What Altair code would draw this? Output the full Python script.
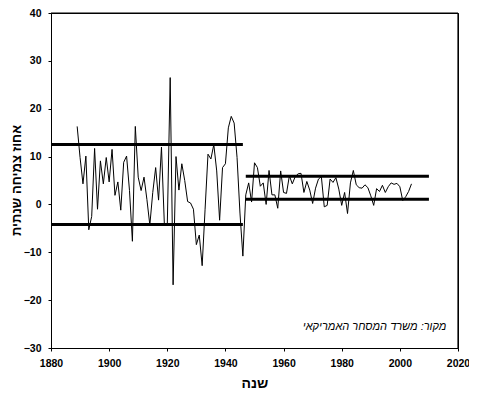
import altair as alt
import pandas as pd

# ---- data ----
years = list(range(1889, 2005))
growth = [
    16.3, 9.8, 4.3, 10.1, -5.3, -2.5, 11.7, -1.0, 9.1, 4.3,      # 1889-1898
    9.8, 4.7, 11.5, 1.9, 4.7, -1.2, 8.8, 10.1, 2.9, -7.7,        # 1899-1908
    16.3, 5.7, 2.9, 5.7, 1.0, -4.3, 2.5, 7.7, 0.9, 12.0,         # 1909-1918
    -4.3, -4.3, 26.5, -16.8, 10.0, 3.0, 8.5, 5.0, 0.6, 0.3,      # 1919-1928
    -1.0, -8.4, -6.4, -12.8, -1.0, 10.5, 9.5, 12.5, 7.0, -3.3,   # 1929-1938
    7.7, 8.5, 16.0, 18.4, 17.0, 9.8, -1.8, -10.8, 2.0, 4.5,      # 1939-1948
    0.5, 8.7, 7.7, 3.8, 4.5, 0.0, 7.1, 2.0, 2.0, -0.8,           # 1949-1958
    7.0, 2.5, 2.3, 6.0, 4.3, 5.8, 6.4, 6.5, 2.5, 4.8,            # 1959-1968
    3.0, 0.2, 3.4, 5.3, 5.8, -0.5, -0.2, 5.3, 4.6, 5.6,          # 1969-1978
    3.2, -0.2, 2.5, -1.9, 4.5, 7.1, 4.1, 3.5, 3.4, 4.1,          # 1979-1988
    3.5, 1.8, -0.2, 3.3, 2.7, 4.0, 2.5, 3.7, 4.5, 4.2,           # 1989-1998
    4.4, 3.7, 0.8, 1.6, 2.7, 4.3,                                # 1999-2004
]

# band lines (two periods, upper and lower bound)
band_start = [1880, 1880, 1947, 1947]
band_end = [1946, 1946, 2010, 2010]
band_value = [12.5, -4.2, 5.9, 1.1]

x_domain = [1880, 2020]
y_domain = [-30, 40]
x_ticks = list(range(1880, 2021, 10))
y_ticks = list(range(-30, 41, 5))

# plot-box edges (domain ends) for the closing frame
edge_h_x0 = [1880]
edge_h_x1 = [2020]
edge_h_y = [40]
edge_v_x = [2020]
edge_v_y0 = [-30]
edge_v_y1 = [40]

note_text = ["מקור: משרד המסחר האמריקאי"]
note_x = [2016]
note_y = [-25.7]

y_title = "אחוז צמיחה שנתית"
x_title = "שנה"

FONT = "Liberation Sans"

series = pd.DataFrame({"year": years, "growth": growth})
bands = pd.DataFrame({"start": band_start, "end": band_end, "value": band_value})
note = pd.DataFrame({"text": note_text, "x": note_x, "y": note_y})
edge_h = pd.DataFrame({"x0": edge_h_x0, "x1": edge_h_x1, "y": edge_h_y})
edge_v = pd.DataFrame({"x": edge_v_x, "y0": edge_v_y0, "y1": edge_v_y1})

xscale = alt.Scale(domain=x_domain, nice=False, zero=False)
yscale = alt.Scale(domain=y_domain, nice=False, zero=False)

xaxis = alt.Axis(
    values=x_ticks, format="d",
    labelExpr="datum.value % 20 == 0 ? datum.label : ''",
    title=x_title, titleFont=FONT, titleFontSize=14, titleFontWeight="bold",
    titleColor="black", titleBaseline="middle", titleY=35,
    labelFont=FONT, labelFontSize=10.5, labelFontWeight="bold", labelColor="black",
    labelPadding=7, tickSize=3, tickColor="black", domainColor="black",
    grid=False, labelFlush=False, labelOverlap=False,
)
yaxis = alt.Axis(
    values=y_ticks,
    labelExpr="datum.value % 10 == 0 ? datum.label : ''",
    title=y_title, titleFont=FONT, titleFontSize=13, titleFontWeight="bold",
    titleColor="black", titleBaseline="middle", titleX=-35, titleY=167,
    titleAngle=270,
    labelFont=FONT, labelFontSize=10.5, labelFontWeight="bold", labelColor="black",
    labelPadding=7, tickSize=3, tickColor="black", domainColor="black",
    grid=False, labelFlush=False, labelOverlap=False,
)

line = alt.Chart(series).mark_line(color="black", strokeWidth=1).encode(
    x=alt.X("year:Q", scale=xscale, axis=xaxis),
    y=alt.Y("growth:Q", scale=yscale, axis=yaxis),
)

top_edge = alt.Chart(edge_h).mark_rule(color="black", strokeWidth=1.2).encode(
    x=alt.X("x0:Q", scale=xscale),
    x2="x1:Q",
    y=alt.Y("y:Q", scale=yscale),
)
right_edge = alt.Chart(edge_v).mark_rule(color="black", strokeWidth=1.2).encode(
    x=alt.X("x:Q", scale=xscale),
    y=alt.Y("y0:Q", scale=yscale),
    y2="y1:Q",
)

rules = alt.Chart(bands).mark_rule(color="black", strokeWidth=3).encode(
    x=alt.X("start:Q", scale=xscale),
    x2="end:Q",
    y=alt.Y("value:Q", scale=yscale),
)

text = alt.Chart(note).mark_text(
    align="right", baseline="middle", font=FONT, fontSize=11,
    fontStyle="italic", color="black",
).encode(
    x=alt.X("x:Q", scale=xscale),
    y=alt.Y("y:Q", scale=yscale),
    text="text:N",
)

chart = alt.layer(line, rules, top_edge, right_edge, text).properties(
    width=407, height=335,
    padding={"left": 43, "top": 5, "right": 11, "bottom": 41},
    autosize=alt.AutoSizeParams(type="none"),
    background="white",
).configure_view(stroke="black", strokeWidth=1)

chart.save("out.html", embed_options={"renderer": "svg", "actions": False})
